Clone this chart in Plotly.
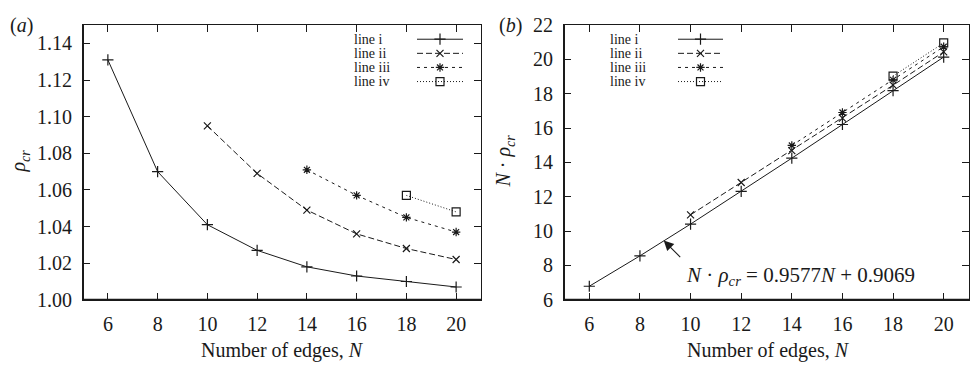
import plotly.graph_objects as go

# Critical density versus number of polygon edges
N_i = [6, 8, 10, 12, 14, 16, 18, 20]
N_ii = [10, 12, 14, 16, 18, 20]
N_iii = [14, 16, 18, 20]
N_iv = [18, 20]

rho_i = [1.131, 1.070, 1.041, 1.027, 1.018, 1.013, 1.010, 1.007]
rho_ii = [1.095, 1.069, 1.049, 1.036, 1.028, 1.022]
rho_iii = [1.071, 1.057, 1.045, 1.037]
rho_iv = [1.057, 1.048]

# N * rho_cr
nrho_i = [6.79, 8.56, 10.41, 12.32, 14.25, 16.21, 18.18, 20.14]
nrho_ii = [10.95, 12.83, 14.69, 16.58, 18.50, 20.44]
nrho_iii = [14.99, 16.91, 18.81, 20.74]
nrho_iv = [19.03, 20.96]

series_names = ["line i", "line ii", "line iii", "line iv"]
x_ticks = [6, 8, 10, 12, 14, 16, 18, 20]
ya_ticks = [1.00, 1.02, 1.04, 1.06, 1.08, 1.10, 1.12, 1.14]
ya_labels = ["1.00", "1.02", "1.04", "1.06", "1.08", "1.10", "1.12", "1.14"]
yb_ticks = [6, 8, 10, 12, 14, 16, 18, 20, 22]

W, H = 970, 371
INK = "#1a1a1a"
SERIF = "Liberation Serif"

styles = [
    dict(dash="solid", symbol="cross-thin-open", size=8),
    dict(dash="6px,3px", symbol="x-thin-open", size=7),
    dict(dash="3px,4px", symbol="asterisk-open", size=7),
    dict(dash="1px,2px", symbol="square-open", size=8),
]

fig = go.Figure()

panel_a = [(N_i, rho_i), (N_ii, rho_ii), (N_iii, rho_iii), (N_iv, rho_iv)]
panel_b = [(N_i, nrho_i), (N_ii, nrho_ii), (N_iii, nrho_iii), (N_iv, nrho_iv)]


def add_series(xs, ys, st, xa, ya, name):
    fig.add_trace(go.Scatter(
        x=xs, y=ys, mode="lines+markers", name=name, showlegend=False,
        xaxis=xa, yaxis=ya,
        line=dict(color=INK, width=1, dash=st["dash"]),
        marker=dict(symbol=st["symbol"], size=st["size"], color=INK,
                    line=dict(color=INK, width=1.2)),
    ))


for (xs, ys), st, nm in zip(panel_a, styles, series_names):
    add_series(xs, ys, st, "x", "y", nm)
for (xs, ys), st, nm in zip(panel_b, styles, series_names):
    add_series(xs, ys, st, "x2", "y2", nm)


# Keys drawn on a full-page pixel-space axis (text left, sample right)
def add_key(text_x, x0, x1, y_rows):
    for nm, st, yy in zip(series_names, styles, y_rows):
        fig.add_trace(go.Scatter(
            x=[x0, x1], y=[yy, yy], mode="lines", showlegend=False,
            xaxis="x3", yaxis="y3", hoverinfo="skip",
            line=dict(color=INK, width=1, dash=st["dash"]),
        ))
        fig.add_trace(go.Scatter(
            x=[(x0 + x1) / 2], y=[yy], mode="markers", showlegend=False,
            xaxis="x3", yaxis="y3", hoverinfo="skip",
            marker=dict(symbol=st["symbol"], size=st["size"], color=INK,
                        line=dict(color=INK, width=1.2)),
        ))
        fig.add_annotation(x=text_x, y=yy, xref="x3", yref="y3", text=nm,
                           showarrow=False, xanchor="left", yanchor="middle",
                           borderpad=0,
                           font=dict(family=SERIF, size=14, color=INK))


rows = [30, 45, 60, 75]
add_key(353, 417, 463, rows)
add_key(609, 678, 723, rows)


def px_x(p):
    return p / W


def px_y(p):
    return 1 - p / H


axis_common = dict(
    showgrid=False, zeroline=False, showline=True, linecolor=INK, linewidth=1.2,
    mirror="allticks", ticks="inside", ticklen=7, tickwidth=1, tickcolor=INK,
    tickfont=dict(family=SERIF, size=20, color=INK),
)

dom_y = [px_y(307), px_y(15)]
fig.update_layout(
    width=W, height=H,
    margin=dict(l=0, r=0, t=0, b=0),
    paper_bgcolor="white", plot_bgcolor="rgba(0,0,0,0)",
    font=dict(family=SERIF, color=INK),
    showlegend=False,
    xaxis=dict(domain=[px_x(83), px_x(481)], range=[5, 21], tickvals=x_ticks,
               anchor="y", ticklabelstandoff=6, **axis_common),
    yaxis=dict(domain=dom_y, range=[1.00, 1.15], tickvals=ya_ticks, ticktext=ya_labels,
               anchor="x", ticklabelstandoff=6, **axis_common),
    xaxis2=dict(domain=[px_x(564), px_x(969)], range=[5, 21], tickvals=x_ticks,
                anchor="y2", ticklabelstandoff=6, **axis_common),
    yaxis2=dict(domain=dom_y, range=[6, 22], tickvals=yb_ticks,
                anchor="x2", ticklabelstandoff=6, **axis_common),
    xaxis3=dict(domain=[0, 1], range=[0, W], visible=False, anchor="y3",
                fixedrange=True),
    yaxis3=dict(domain=[0, 1], range=[H, 0], visible=False, anchor="x3",
                fixedrange=True),
)

# Heavier left and bottom frame edges
for xa, ya in (("x", "y"), ("x2", "y2")):
    fig.add_shape(type="line", xref=f"{xa} domain", yref=f"{ya} domain",
                  x0=0, x1=0, y0=0, y1=1, line=dict(color=INK, width=2))
    fig.add_shape(type="line", xref=f"{xa} domain", yref=f"{ya} domain",
                  x0=0, x1=1, y0=0, y1=0, line=dict(color=INK, width=2))

# Fit annotation in panel (b)
fig.add_annotation(x=8.94, y=9.45, xref="x2", yref="y2", text="",
                   showarrow=True, arrowhead=2, arrowsize=1.8, arrowwidth=1.1,
                   arrowcolor=INK, ax=18, ay=18)
fig.add_annotation(x=9.76, y=7.40, xref="x2", yref="y2",
                   text="<i>N</i> · <i>ρ</i><sub><i>cr</i></sub> = 0.9577<i>N</i> + 0.9069",
                   showarrow=False, xanchor="left", yanchor="middle",
                   font=dict(family=SERIF, size=21, color=INK))

# Axis titles and panel labels
title_font = dict(family=SERIF, size=20, color=INK)
texts = [
    (282, 361, "Number of edges, <i>N</i>", 0),
    (768, 361, "Number of edges, <i>N</i>", 0),
    (20, 160, "<i>ρ</i><sub><i>cr</i></sub>", -90),
    (505, 160, "<i>N</i> · <i>ρ</i><sub><i>cr</i></sub>", -90),
    (21, 15, "(<i>a</i>)", 0),
    (510, 15, "(<i>b</i>)", 0),
]
for x, y, t, ang in texts:
    fig.add_annotation(x=px_x(x), y=px_y(y), xref="paper", yref="paper", text=t,
                       showarrow=False, xanchor="center", yanchor="middle",
                       textangle=ang, font=title_font)

fig.write_html("out.html")
